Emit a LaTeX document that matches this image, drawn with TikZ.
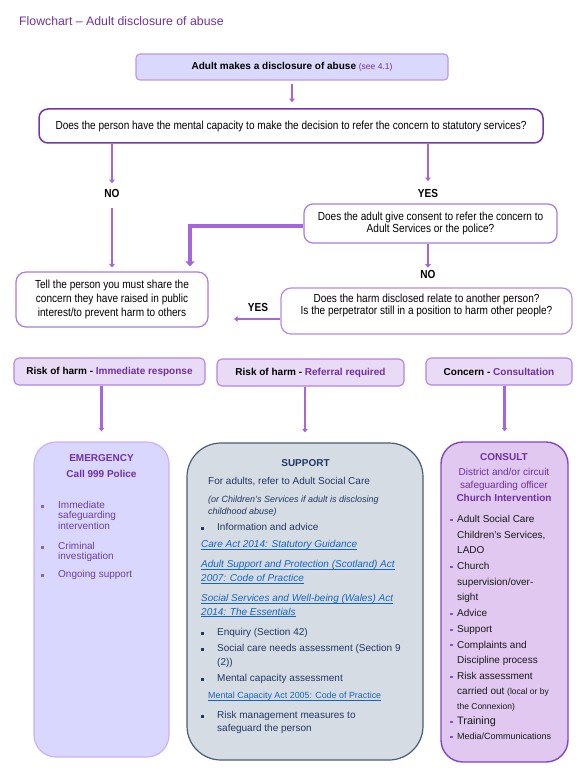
\documentclass[tikz,border=0pt]{standalone}
\usepackage{fontspec}
\setmainfont{Liberation Sans}
\newfontfamily\nar[FakeStretch=0.86]{Liberation Sans}
\usetikzlibrary{arrows.meta}
\definecolor{tpurple}{HTML}{7030A0}
\definecolor{apurple}{HTML}{A466DA}
\definecolor{qdraw}{HTML}{7536A8}
\definecolor{bdraw}{HTML}{A77BE0}
\definecolor{hdraw}{HTML}{B68AE6}
\definecolor{topfill}{HTML}{DAD8FC}
\definecolor{topdraw}{HTML}{BA96EA}
\definecolor{hdrfill}{HTML}{E9DAF5}
\definecolor{hdrdraw}{HTML}{B184E2}
\definecolor{emfill}{HTML}{D9D7FD}
\definecolor{emdraw}{HTML}{CCB2F2}
\definecolor{emtext}{HTML}{6E3E9E}
\definecolor{supfill}{HTML}{D6DCE4}
\definecolor{supdraw}{HTML}{4B5B72}
\definecolor{navy}{HTML}{1F3864}
\definecolor{linkblue}{HTML}{1565C0}
\definecolor{confill}{HTML}{E0C8F0}
\definecolor{condraw}{HTML}{8446BE}
\definecolor{conbul}{HTML}{8A4CC8}
\newcommand{\fs}[1]{\fontsize{#1}{#1}\selectfont}
\newcommand{\lnk}[1]{\setbox0\hbox{#1}\rlap{\rule[-1.6pt]{\wd0}{0.6pt}}\box0}
\begin{document}
\begin{tikzpicture}[x=1pt,y=-1pt,
  every node/.style={inner sep=0pt},
  t/.style={anchor=west, text height=7.2pt, text depth=2pt},
  tc/.style={anchor=center, text height=7.2pt, text depth=2pt},
  wbox/.style={draw=bdraw, fill=white, line width=1.2pt, rounded corners=9pt, align=center,
     font=\nar\fontsize{11.7}{12.7}\selectfont},
  lbl/.style={tc, font=\nar\bfseries\fs{11.7}},
  hdr/.style={draw=hdrdraw, fill=hdrfill, line width=1.1pt, rounded corners=5pt,
     minimum height=27pt, font=\bfseries\fs{10}, text=tpurple},
  arr/.style={draw=apurple, line width=2.2pt, -{Triangle[length=3.5pt,width=5.5pt]}},
  bigarr/.style={draw=apurple, line width=4pt, line join=miter, -{Triangle[length=5pt,width=9pt]}},
  reg/.style={t, font=\fs{10}},
]
\useasboundingbox (0,0) rectangle (588,778);

% title
\node[t, font=\fs{12.3}, text=tpurple] (title) at (19,23) {Flowchart – Adult disclosure of abuse};

% top box
\node[draw=topdraw, fill=topfill, line width=1.1pt, rounded corners=4pt,
      minimum width=312pt, minimum height=26pt, font=\fs{10}] (top) at (292,67)
  {\bfseries Adult makes a disclosure of abuse \mdseries\textcolor{tpurple}{\fs{8.5}(see 4.1)}};

% question
\node[wbox, draw=qdraw, line width=1.5pt, minimum width=504pt, minimum height=34pt] (q) at (291,126)
  {Does the person have the mental capacity to make the decision to refer the concern to statutory services?};

\node[lbl] (no1) at (112,195) {NO};
\node[lbl] (yes1) at (428,195) {YES};

\node[wbox, minimum width=253pt, minimum height=39pt] (consent) at (430.5,223.5)
  {Does the adult give consent to refer the concern to\\Adult Services or the police?};

\node[lbl] (no2) at (428,276) {NO};

\node[wbox, draw=hdraw, rounded corners=10pt, minimum width=291pt, minimum height=46pt] (harm) at (426.5,311)
  {Does the harm disclosed relate to another person?\\Is the perpetrator still in a position to harm other people?\\[-3pt]\strut};

\node[wbox, rounded corners=10pt, minimum width=192pt, minimum height=55pt, font=\nar\fontsize{11.7}{13.6}\selectfont] (tell) at (112,299.5)
  {Tell the person you must share the\\concern they have raised in public\\interest/to prevent harm to others};

\node[lbl] (yes2) at (258,309) {YES};
\coordinate (yesend) at (234,319);

% connectors
\draw[arr, shorten >=7pt] (q.south -| no1) -- (no1.north);
\draw[arr, shorten <=8pt, shorten >=4pt] (no1.south) -- (tell.north -| no1);
\draw[arr, shorten >=9pt] (q.south -| yes1) -- (yes1.north);
\draw[arr, shorten >=3.5pt] (consent.south -| no2) -- (no2.north);
\draw[bigarr, shorten >=5pt] ([yshift=-2.5pt]consent.west) -| ([xshift=78pt]tell.north);
\draw[arr] (harm.west |- yesend) -- (yesend);
\draw[arr, shorten <=3pt, shorten >=6pt] (top.south) -- (q.north -| top.south);

% headers
\node[hdr, minimum width=191pt] (h1) at (109.5,371.5) {\textcolor{black}{Risk of harm -} Immediate response};
\node[hdr, minimum width=187pt] (h2) at (310.5,372.5) {\textcolor{black}{Risk of harm -} Referral required};
\node[hdr, minimum width=146pt] (h3) at (499,371.5) {\textcolor{black}{Concern -} Consultation};

% bottom boxes
\node[draw=emdraw, fill=emfill, line width=1.2pt, rounded corners=22pt, minimum width=135pt, minimum height=315pt] (em) at (101.5,599.5) {};
\node[draw=supdraw, fill=supfill, line width=1.2pt, rounded corners=34pt, minimum width=236pt, minimum height=317pt] (sup) at (305,601.5) {};
\node[draw=condraw, fill=confill, line width=1.4pt, rounded corners=22pt, minimum width=127pt, minimum height=320pt] (con) at (504.5,602) {};

\draw[arr, shorten >=10pt] (h1.south -| em.north) -- (em.north);
\draw[arr, shorten >=10pt] (h2.south -| sup.north) -- (sup.north);
\draw[arr, shorten >=10pt] (h3.south -| con.north) -- (con.north);

% emergency text
\node[tc, font=\bfseries\fs{10}, text=tpurple] at (101.5,459) {EMERGENCY};
\node[tc, font=\bfseries\fs{10}, text=tpurple] at (101.5,475) {Call 999 Police};
\foreach \yy in {506,547,575} \fill[emtext!80] (40.5,\yy-1.5) rectangle ++(3,3);
\begin{scope}[every node/.append style={reg, text=emtext}]
\node at (58,506) {Immediate};
\node at (58,516.3) {safeguarding};
\node at (58,526.6) {intervention};
\node at (58,547) {Criminal};
\node at (58,557.3) {investigation};
\node at (58,575) {Ongoing support};
\end{scope}

% support text
\node[tc, font=\bfseries\fs{10}, text=navy] at (305.5,464) {SUPPORT};
\foreach \yy in {528,633,649,679,716} \fill[navy] (201.3,\yy-1.5) rectangle ++(3,3);
\begin{scope}[every node/.append style={reg, text=navy}]
\node at (208,482) {For adults, refer to Adult Social Care};
\node[font=\itshape\fs{9}] at (208,500) {(or Children’s Services if adult is disclosing};
\node[font=\itshape\fs{9}] at (208,512) {childhood abuse)};
\node at (217,528) {Information and advice};
\node at (217,633) {Enquiry (Section 42)};
\node at (217,649) {Social care needs assessment (Section 9};
\node at (217,663) {(2))};
\node at (217,679) {Mental capacity assessment};
\node at (217,716) {Risk management measures to};
\node at (217,728.5) {safeguard the person};
\end{scope}
\begin{scope}[every node/.append style={reg, text=linkblue, font=\itshape\fs{10}}]
\node at (201,545) {\lnk{Care Act 2014: Statutory Guidance}};
\node at (201,565) {\lnk{Adult Support and Protection (Scotland) Act}};
\node at (201,579) {\lnk{2007: Code of Practice}};
\node at (201,599) {\lnk{Social Services and Well-being (Wales) Act}};
\node at (201,612.5) {\lnk{2014: The Essentials}};
\node[font=\upshape\fs{8.9}] at (208,696) {\lnk{Mental Capacity Act 2005: Code of Practice}};
\end{scope}

% consult text
\node[tc, font=\bfseries\fs{10}, text=tpurple] at (504,458) {CONSULT};
\node[tc, font=\fs{10}, text=tpurple] at (504,473) {District and/or circuit};
\node[tc, font=\fs{10}, text=tpurple] at (504,486) {safeguarding officer};
\node[tc, font=\bfseries\fs{10}, text=tpurple] at (504,499) {Church Intervention};
\foreach \yy in {520,567,614,630,645,677,722,737} \fill[conbul] (450,\yy-1.2) rectangle ++(2.5,2.5);
\begin{scope}[every node/.append style={reg, text=black!90}]
\node at (457,520) {Adult Social Care};
\node at (457,535.5) {Children’s Services,};
\node at (457,551) {LADO};
\node at (457,567) {Church};
\node at (457,582.5) {supervision/over-};
\node at (457,598) {sight};
\node at (457,614) {Advice};
\node at (457,630) {Support};
\node at (457,645.5) {Complaints and};
\node at (457,661) {Discipline process};
\node at (457,677) {Risk assessment};
\node at (457,692) {carried out {\fs{8.5}(local or by}};
\node[font=\fs{8.5}] at (457,707) {the Connexion)};
\node[font=\fs{10.8}] at (457,722) {Training};
\node[font=\fs{9}] at (457,737) {Media/Communications};
\end{scope}
\end{tikzpicture}
\end{document}
